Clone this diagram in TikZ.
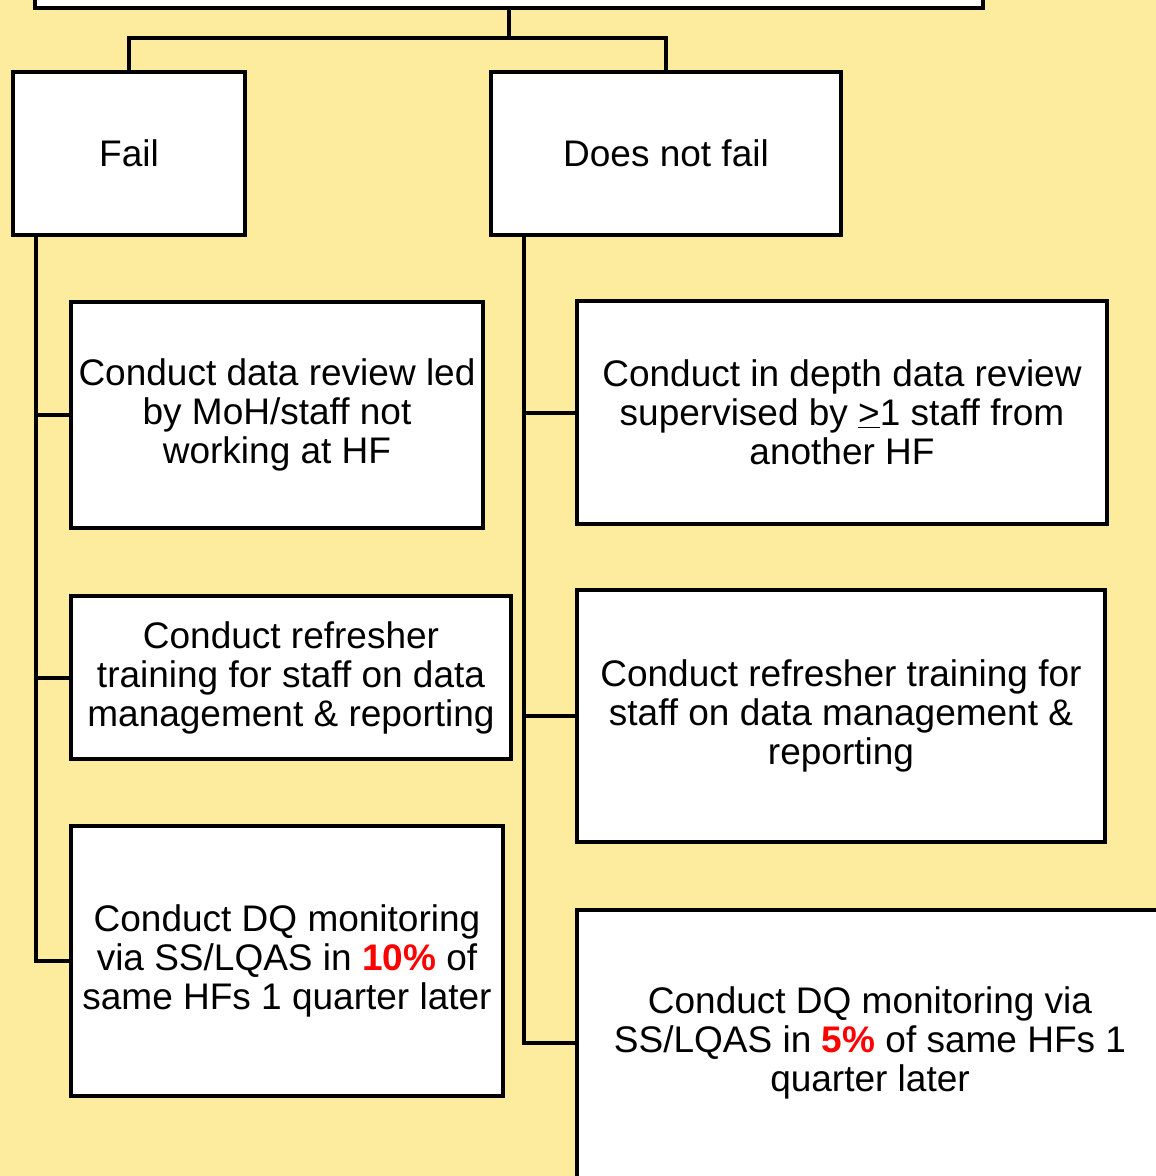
\documentclass[tikz,border=0pt]{standalone}
\usepackage{fontspec}
\setmainfont{Liberation Sans}
\definecolor{bgyellow}{RGB}{254,236,158}
\definecolor{hired}{RGB}{255,0,0}
\begin{document}
\begin{tikzpicture}[x=1pt,y=-1pt,
  box/.style={draw=black, fill=white, line width=4pt, inner sep=0pt, align=center,
    font=\fontsize{37}{39}\selectfont},
  conn/.style={draw=black, line width=4pt, line cap=rect}]
\useasboundingbox (0,0) rectangle (1156,1176);
\fill[bgyellow] (0,0) rectangle (1156,1176);
% boxes: centre = midpoint of pixel extents
\node[box, minimum width=948pt, minimum height=68pt] (top) at (509,-26) {};
\node[box, minimum width=232pt, minimum height=163pt] (fail) at (129,153.5) {Fail};
\node[box, minimum width=350pt, minimum height=163pt] (dnf) at (666,153.5) {Does not fail};
\node[box, minimum width=412pt, minimum height=226pt] (l1) at (277,415) {Conduct data review led\\by MoH/staff not\\working at HF};
\node[box, minimum width=440pt, minimum height=163pt] (l2) at (291,677.5) {Conduct refresher\\training for staff on data\\management \& reporting};
\node[box, minimum width=432pt, minimum height=270pt] (l3) at (287,961) {Conduct DQ monitoring\\via SS/LQAS in \textcolor{hired}{\textbf{10\%}} of\\same HFs 1 quarter later};
\node[box, minimum width=530pt, minimum height=223pt] (r1) at (842,412.5) {Conduct in depth data review\\supervised by \underline{>}1 staff from\\another HF};
\node[box, minimum width=528pt, minimum height=252pt] (r2) at (841,716) {Conduct refresher training for\\staff on data management \&\\reporting};
\node[box, draw=none, outer sep=0pt, minimum width=586pt, minimum height=266pt] (r3) at (870,1043) {Conduct DQ monitoring via\\SS/LQAS in \textcolor{hired}{\textbf{5\%}} of same HFs 1\\quarter later};
\draw[conn] ([yshift=-20pt]r3.south west) -- (r3.north west) -- ([xshift=20pt]r3.north east);
% connectors
\coordinate (mid) at (top.south |- 0,38);
\draw[conn] (top.south) -- (mid);
\draw[conn] (fail.north) |- (mid) -| (dnf.north);
\coordinate (ls) at ([xshift=25pt]fail.south west);
\coordinate (rs) at ([xshift=35pt]dnf.south west);
\draw[conn] (ls) |- (l3.west);
\draw[conn] (l1.west) -- (l1.west -| ls);
\draw[conn] (l2.west) -- (l2.west -| ls);
\draw[conn] (rs) |- (r3.west);
\draw[conn] (r1.west) -- (r1.west -| rs);
\draw[conn] (r2.west) -- (r2.west -| rs);
\end{tikzpicture}
\end{document}
